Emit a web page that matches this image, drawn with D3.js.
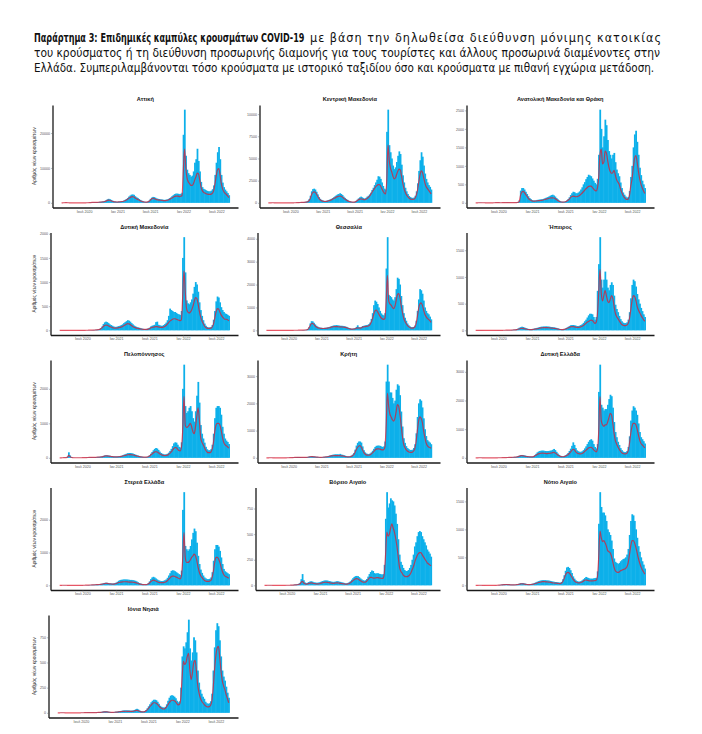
<!DOCTYPE html>
<html lang="el">
<head>
<meta charset="UTF-8">
<title>Παράρτημα 3 - Επιδημικές καμπύλες</title>
<script src="https://d3js.org/d3.v7.min.js"></script>
<style>
  body { margin: 0; background: #fff; }
  svg { display: block; }
</style>
</head>
<body>
<script>
// weekly bins, first week starts Monday 24 Feb 2020
// *Bars = highest daily count in the week, *Avg = 7-day average (red line)
const firstWeek = new Date(2020, 1, 24);

const regions = ["Αττική", "Κεντρική Μακεδονία", "Ανατολική Μακεδονία και Θράκη",
  "Δυτική Μακεδονία", "Θεσσαλία", "Ήπειρος",
  "Πελοπόννησος", "Κρήτη", "Δυτική Ελλάδα",
  "Στερεά Ελλάδα", "Βόρειο Αιγαίο", "Νότιο Αιγαίο",
  "Ιόνια Νησιά"];

const atticaBars = [5,20,50,70,60,40,30,20,15,10,
  8,6,6,6,10,10,15,20,20,25,
  40,50,100,140,170,180,180,190,210,240,
  280,320,380,450,560,750,1000,1150,1050,850,
  650,500,400,360,340,380,420,470,540,650,
  850,1100,1400,1800,2100,2360,2400,2300,1900,1600,
  1400,1100,850,650,480,360,290,290,380,650,
  1150,1500,1700,1650,1450,1250,1150,1100,1000,950,
  900,850,900,950,1100,1350,1550,1900,2200,2500,
  2640,2650,2600,2500,2600,2900,19500,26700,13500,9500,
  8500,8000,7500,7800,9000,11500,12500,15500,12000,9000,
  6000,4500,4000,3800,3600,3400,3300,3300,3500,3900,
  5000,8000,11500,14500,16000,12500,8000,5800,4500,3800,
  3300,2800,2200];
const atticaAvg = [2,10,30,40,35,25,15,10,8,5,
  4,3,3,3,5,5,8,10,12,15,
  20,30,60,90,110,120,120,130,150,170,
  200,220,260,300,380,500,700,800,750,600,
  450,350,280,250,230,270,300,330,380,450,
  600,800,1000,1300,1500,1700,1800,1700,1400,1200,
  1000,800,600,450,330,250,200,200,260,450,
  800,1100,1300,1250,1050,900,850,800,750,700,
  650,620,650,700,800,1000,1150,1400,1600,1800,
  1900,1950,1900,1800,1900,2100,9000,15500,10000,7000,
  6000,5500,5000,5000,5500,6500,7500,8500,8300,6500,
  4500,3500,3000,2800,2600,2500,2400,2400,2500,2800,
  3500,5500,7800,9500,9800,8000,5500,4000,3200,2700,
  2400,2000,1500];

const centralMacBars = [0,5,12,15,15,12,8,6,4,4,
  2,2,2,3,4,4,6,8,10,12,
  12,15,20,30,45,60,70,80,90,100,
  120,160,230,420,800,1300,1550,1600,1500,1250,
  950,650,450,330,270,220,210,240,280,330,
  380,450,540,640,740,850,950,1000,1080,1000,
  880,700,560,440,340,240,170,140,110,110,
  130,220,360,500,620,700,620,540,470,560,
  700,800,950,1150,1450,1700,2000,2300,2600,3000,
  2950,2700,2300,1900,1600,1500,8000,10500,6500,5700,
  5000,4200,3800,4000,4600,5300,5800,5500,4300,3100,
  2300,1700,1300,1000,780,650,580,550,600,800,
  1300,2200,3600,4800,5700,5200,4200,3300,2700,2300,
  2000,1800,1500];
const centralMacAvg = [0,2,5,8,8,6,4,3,2,2,
  1,1,1,1,2,2,3,4,5,6,
  6,8,10,15,25,35,40,45,55,60,
  70,90,130,250,500,900,1150,1230,1200,1000,
  750,500,350,250,200,160,150,170,200,240,
  280,330,400,480,560,640,700,740,760,740,
  650,520,420,330,250,180,130,100,80,80,
  90,150,250,350,420,450,420,380,350,400,
  500,600,750,950,1200,1400,1600,1800,1950,2050,
  2050,1900,1600,1300,1100,1000,2500,6500,4800,3900,
  3500,3000,2700,2800,3200,3600,3800,3700,3000,2200,
  1600,1200,900,700,550,450,400,380,400,550,
  900,1500,2400,3200,3600,3400,2800,2200,1800,1600,
  1400,1200,1000];

const eastMacBars = [0,2,4,6,6,4,4,4,2,2,
  2,2,2,2,4,6,8,10,8,6,
  6,8,10,10,12,12,10,10,8,8,
  10,12,15,22,70,330,400,400,360,300,
  240,180,130,100,75,65,65,70,80,85,
  90,95,100,110,125,140,155,170,190,210,
  220,200,170,130,95,65,45,32,30,32,
  45,65,100,150,210,260,300,290,260,260,
  280,310,360,420,500,560,640,700,760,740,
  720,660,600,540,500,650,1300,2520,2000,1500,
  1800,2250,2100,1700,1400,1300,1200,1300,1350,1100,
  900,800,720,550,400,280,220,170,140,160,
  320,700,1000,1500,1850,1950,1650,1300,950,750,
  600,500,400];
const eastMacAvg = [0,1,2,3,3,2,2,2,1,1,
  1,1,1,1,2,3,4,5,4,3,
  3,4,5,5,6,6,5,5,4,4,
  5,6,8,12,40,200,290,310,280,230,
  180,130,90,70,50,45,45,50,55,60,
  60,65,70,80,90,100,110,120,130,135,
  135,130,115,90,65,45,30,22,20,22,
  30,45,70,100,140,170,180,175,165,170,
  180,200,230,260,300,340,380,410,440,450,
  450,420,380,340,320,400,700,1300,1450,1050,
  1100,1400,1350,1150,950,850,800,820,880,750,
  620,560,500,380,280,200,150,110,90,100,
  200,450,650,950,1200,1280,1100,850,650,500,
  400,320,250];

const westMacBars = [0,1,2,2,2,2,2,1,0,0,
  0,0,0,0,1,2,2,2,2,2,
  2,3,4,5,5,6,8,10,12,15,
  20,30,45,80,130,165,180,170,150,125,
  110,95,80,72,72,80,88,95,110,125,
  150,170,190,210,200,180,150,125,100,85,
  70,60,55,45,38,32,28,28,32,40,
  55,80,95,105,115,170,180,115,105,95,
  95,110,130,160,210,300,450,420,400,380,
  380,360,340,330,320,400,1500,1930,1200,620,
  560,540,580,640,760,900,1000,950,800,580,
  420,300,210,140,95,70,60,60,70,110,
  220,400,600,700,680,580,480,420,380,350,
  340,320,300];
const westMacAvg = [0,0,1,1,1,1,1,0,0,0,
  0,0,0,0,0,1,1,1,1,1,
  1,2,2,3,3,4,5,6,8,10,
  14,20,30,50,80,100,110,105,95,80,
  70,60,50,45,45,50,55,60,70,80,
  95,110,125,140,135,120,100,80,65,55,
  45,40,35,30,25,20,18,18,20,25,
  35,50,60,65,70,75,75,70,65,60,
  60,70,80,100,130,160,190,210,230,240,
  240,230,220,210,200,220,700,1230,800,450,
  380,360,380,420,500,600,680,660,550,400,
  280,200,140,90,60,45,40,40,45,70,
  130,250,380,450,440,380,320,280,250,230,
  230,220,200];

const thessalyBars = [0,2,4,4,4,2,2,2,0,0,
  0,0,0,0,1,1,2,2,2,2,
  3,4,5,6,8,8,9,10,12,15,
  18,22,30,60,140,300,400,390,330,260,
  200,160,130,120,110,105,105,110,120,130,
  145,160,185,200,215,220,230,220,210,200,
  200,195,185,170,155,130,105,85,72,72,
  80,95,150,220,140,130,150,190,200,215,
  230,240,270,340,500,750,1100,1300,1250,1150,
  1000,850,740,680,650,750,2700,4070,1550,1500,
  1450,1350,1300,1450,1800,2300,2250,2000,1500,1100,
  750,550,420,300,220,170,140,140,150,210,
  420,850,1350,1800,1750,1600,1300,1000,850,750,
  700,600,480];
const thessalyAvg = [0,1,2,2,2,1,1,1,0,0,
  0,0,0,0,0,0,1,1,1,1,
  2,2,3,4,5,5,6,7,8,10,
  12,15,20,40,90,200,290,300,260,200,
  150,120,100,90,85,80,80,85,90,100,
  110,120,140,150,160,160,165,160,155,150,
  150,145,140,130,120,100,80,65,55,55,
  60,70,90,110,100,95,110,140,150,160,
  170,180,200,250,350,500,700,850,880,820,
  720,620,540,500,480,520,1300,2400,1300,1150,
  1100,1000,950,1050,1300,1550,1600,1450,1100,800,
  550,400,300,220,160,120,100,100,110,150,
  300,600,950,1150,1200,1100,900,700,600,520,
  480,420,350];

const epirusBars = [0,1,2,2,2,2,1,0,0,0,
  0,0,0,0,0,1,1,2,2,2,
  2,3,4,4,5,5,5,6,8,10,
  14,18,24,35,50,60,68,62,52,42,
  34,28,24,24,26,30,36,42,48,55,
  62,68,70,72,72,75,72,70,66,62,
  60,56,52,45,38,30,24,20,20,26,
  36,50,65,80,95,100,100,95,88,80,
  80,88,100,115,140,170,200,240,280,310,
  310,300,250,200,250,740,1240,1745,950,800,
  950,1100,950,800,750,850,900,850,650,480,
  400,340,270,210,170,145,135,135,150,200,
  340,600,850,950,920,820,680,580,500,420,
  360,300,250];
const epirusAvg = [0,0,1,1,1,1,0,0,0,0,
  0,0,0,0,0,0,0,1,1,1,
  1,1,2,2,3,3,3,4,5,6,
  8,10,14,20,28,35,38,36,30,25,
  20,16,14,14,15,18,22,26,30,35,
  40,45,48,50,50,52,50,48,45,42,
  40,38,35,30,25,20,16,14,14,18,
  25,35,45,55,65,70,70,65,60,55,
  55,60,65,75,90,110,130,150,165,180,
  190,185,160,130,150,300,700,1140,700,550,
  650,750,650,550,520,580,650,600,450,320,
  260,220,180,140,110,95,90,90,100,130,
  220,380,550,650,640,560,450,380,330,280,
  240,200,170];

const peloponneseBars = [0,2,4,6,8,12,40,160,70,25,
  8,5,4,4,4,4,5,5,6,8,
  10,12,15,18,20,20,20,22,24,26,
  30,34,38,45,58,70,75,75,70,62,
  55,50,45,42,42,45,48,52,60,75,
  90,105,120,135,140,140,135,125,110,95,
  80,66,56,45,38,30,27,27,30,45,
  75,120,170,220,260,285,270,230,180,140,
  120,105,95,105,120,150,200,260,340,420,
  450,440,380,320,300,450,2000,2700,1500,1300,
  1350,1450,1500,1350,1150,1050,1350,1800,2200,1600,
  950,700,560,440,320,250,220,220,250,380,
  700,1150,1450,1500,1500,1450,1250,900,700,560,
  500,460,400];
const peloponneseAvg = [0,1,2,4,5,8,20,70,40,15,
  5,3,2,2,2,2,3,3,4,5,
  6,8,10,12,14,14,14,15,16,18,
  20,22,25,30,40,50,55,55,50,45,
  40,35,30,28,28,30,32,35,40,50,
  60,70,80,90,95,95,90,85,75,65,
  55,45,38,30,25,20,18,18,20,30,
  50,80,110,140,165,180,170,150,120,95,
  80,70,65,70,80,100,130,170,220,270,
  300,290,250,210,200,300,800,1780,950,880,
  900,950,1000,900,750,700,900,1200,1450,1100,
  600,450,380,300,220,170,150,150,170,250,
  450,750,950,1000,1000,950,800,600,450,380,
  350,320,280];

const creteBars = [0,2,4,5,5,4,4,2,2,2,
  2,2,2,2,2,4,4,6,8,10,
  14,18,22,26,30,32,32,30,28,26,
  26,28,30,36,46,55,60,58,52,45,
  40,36,32,30,30,34,38,45,52,60,
  75,90,105,115,120,130,130,130,125,145,
  120,110,95,80,65,55,55,60,85,120,
  180,300,450,550,600,600,560,420,280,200,
  160,145,140,160,200,260,330,400,440,450,
  450,440,420,400,420,600,2800,3420,2800,2400,
  2400,2200,2000,2100,2500,2700,2650,2300,1700,1150,
  720,550,430,360,320,290,290,300,360,500,
  900,1500,2000,2150,2100,1850,1450,1050,800,650,
  600,560,500];
const creteAvg = [0,1,2,3,3,2,2,1,1,1,
  1,1,1,1,1,2,2,3,4,6,
  8,10,12,15,18,20,20,18,16,15,
  15,16,18,22,30,40,45,42,38,32,
  28,25,22,20,20,22,25,30,35,40,
  50,60,70,75,80,85,85,85,80,80,
  75,70,60,50,40,35,35,40,55,80,
  120,200,300,380,430,450,400,300,200,140,
  110,100,95,110,140,180,230,280,320,330,
  330,320,300,290,300,400,1200,2370,1900,1600,
  1500,1400,1350,1450,1700,1950,1900,1600,1200,800,
  500,380,300,250,220,200,200,210,250,350,
  600,1000,1350,1500,1450,1300,1000,750,550,450,
  400,380,350];

const westGreeceBars = [0,2,4,5,5,4,4,2,2,2,
  2,2,2,2,2,2,4,4,5,5,
  6,8,10,12,15,18,20,24,26,30,
  32,36,45,60,80,95,100,95,85,72,
  65,58,52,48,48,60,90,140,190,220,
  240,250,255,250,240,235,235,240,250,260,
  280,310,270,210,150,105,75,60,56,66,
  90,120,170,240,320,420,540,450,340,260,
  230,210,210,230,270,330,400,480,560,620,
  650,600,480,380,330,480,2300,3250,1850,1750,
  1650,1700,1700,1850,2050,2200,2150,1750,1250,900,
  720,560,450,340,270,220,200,200,240,380,
  750,1300,1650,1800,1750,1650,1500,1200,900,720,
  650,580,500];
const westGreeceAvg = [0,1,2,3,3,2,2,1,1,1,
  1,1,1,1,1,1,2,2,3,3,
  4,5,6,8,10,12,14,16,18,20,
  22,25,30,40,55,70,75,70,60,50,
  45,40,35,32,32,40,60,90,120,140,
  150,160,165,160,155,150,150,155,160,170,
  180,190,170,140,100,70,50,40,38,45,
  60,80,110,150,200,260,300,280,220,170,
  150,140,140,150,180,220,260,300,340,360,
  370,340,290,240,210,300,900,2140,1300,1150,
  1100,1150,1150,1250,1400,1550,1500,1200,850,600,
  480,380,300,230,180,150,140,140,160,250,
  500,850,1100,1200,1200,1150,1000,800,620,500,
  450,400,350];

const stereaBars = [0,2,4,5,5,5,4,4,2,2,
  2,2,2,2,2,2,4,4,4,5,
  6,8,10,12,15,18,20,24,28,30,
  34,38,45,52,65,75,80,78,70,62,
  60,58,60,68,85,110,140,160,170,175,
  180,180,180,175,170,165,165,160,150,140,
  120,95,72,55,45,36,32,32,40,65,
  120,190,240,260,240,210,180,155,140,130,
  130,140,155,180,230,300,370,440,460,450,
  430,400,370,340,320,450,2300,2840,1200,1100,
  1050,1100,1200,1400,1600,1730,1650,1300,900,650,
  480,380,300,240,210,190,190,200,240,400,
  750,1100,1230,1230,1180,1050,850,650,500,430,
  400,370,340];
const stereaAvg = [0,1,2,3,3,3,2,2,1,1,
  1,1,1,1,1,1,2,2,2,3,
  4,5,6,8,10,12,14,16,18,20,
  22,25,30,35,45,55,60,58,52,45,
  42,40,40,45,55,70,85,95,100,105,
  110,110,110,105,100,100,100,95,90,85,
  75,60,45,35,28,22,20,20,25,40,
  70,110,140,160,150,130,110,95,85,80,
  80,85,95,110,140,180,220,260,280,280,
  270,250,230,210,200,280,800,1610,850,700,
  700,720,780,850,900,950,900,750,550,400,
  300,240,190,150,130,120,120,130,150,250,
  450,700,850,850,800,700,550,420,330,280,
  260,240,220];

const northAegeanBars = [0,0,2,2,2,2,2,0,0,0,
  0,0,0,0,0,0,0,2,2,2,
  2,4,4,6,8,10,12,16,24,60,
  110,50,28,22,26,32,38,40,36,30,
  28,26,26,28,32,38,42,46,48,48,
  46,42,40,36,34,34,36,40,40,36,
  34,30,27,24,20,20,24,30,40,55,
  70,82,90,92,90,80,68,58,50,46,
  50,62,85,110,130,145,140,120,115,118,
  118,112,110,105,110,200,650,910,760,800,
  850,830,820,780,700,600,450,300,230,200,
  170,150,140,140,150,170,200,250,300,380,
  420,480,520,530,520,480,450,420,390,350,
  330,310,280];
const northAegeanAvg = [0,0,1,1,1,1,1,0,0,0,
  0,0,0,0,0,0,0,1,1,1,
  1,2,2,3,4,5,6,8,12,30,
  40,25,15,12,14,18,22,24,22,18,
  16,14,14,15,18,22,25,28,30,30,
  28,26,24,22,20,20,22,24,24,22,
  20,18,16,14,12,12,14,18,25,35,
  45,55,62,66,62,55,45,38,32,30,
  32,40,55,70,78,77,72,70,72,75,
  75,72,70,68,70,120,300,520,480,500,
  560,600,560,520,460,380,280,180,140,120,
  100,90,85,85,90,100,120,150,180,220,
  260,290,310,320,320,300,280,260,240,220,
  210,200,190];

const southAegeanBars = [0,0,2,4,4,2,2,2,0,0,
  0,0,0,0,0,2,2,4,6,10,
  14,18,20,22,24,22,20,16,14,14,
  14,16,20,25,32,38,42,40,34,28,
  24,22,22,24,28,35,44,55,65,75,
  82,88,92,92,92,90,88,85,80,75,
  68,64,60,58,54,50,50,62,110,180,
  260,320,330,310,270,220,160,120,90,75,
  68,68,75,90,110,130,150,140,130,120,
  120,120,125,130,135,250,1100,1665,1400,1300,
  1300,1250,1150,1000,950,900,800,650,480,420,
  400,380,400,430,450,470,480,500,550,650,
  900,1150,1270,1250,1150,1000,850,700,600,500,
  430,370,300];
const southAegeanAvg = [0,0,1,2,2,1,1,1,0,0,
  0,0,0,0,0,1,1,2,3,5,
  8,10,12,14,15,14,12,10,8,8,
  8,10,12,15,20,25,28,26,22,18,
  15,14,14,15,18,22,28,35,42,50,
  55,60,65,65,65,62,60,58,55,50,
  45,42,40,38,35,32,32,40,70,120,
  180,220,230,220,190,150,110,80,60,50,
  45,45,50,60,75,90,95,90,85,80,
  80,80,82,85,90,150,500,970,850,780,
  800,760,700,620,600,580,520,420,320,260,
  240,230,240,260,270,280,290,300,330,400,
  550,700,800,800,760,680,580,480,400,330,
  280,240,200];

const ionianBars = [0,0,2,2,2,2,0,0,0,0,
  0,0,0,0,0,0,0,0,2,2,
  2,4,4,5,5,5,5,5,5,5,
  6,7,8,9,11,14,16,16,14,12,
  10,8,8,8,10,12,14,16,18,20,
  22,24,25,25,24,24,22,22,24,28,
  35,40,34,25,18,15,15,18,28,45,
  65,85,105,120,130,130,125,110,90,70,
  60,55,52,60,85,120,150,170,175,170,
  160,145,120,105,115,250,560,660,640,700,
  800,925,640,520,600,750,720,600,420,300,
  230,190,160,140,110,95,90,95,115,190,
  420,650,820,890,860,720,560,420,360,320,
  260,200,150];
const ionianAvg = [0,0,1,1,1,1,0,0,0,0,
  0,0,0,0,0,0,0,0,1,1,
  1,2,2,3,3,3,3,3,3,3,
  3,4,4,5,6,8,10,10,9,8,
  6,5,5,5,6,7,8,10,12,13,
  14,15,16,16,15,15,14,14,15,18,
  22,25,22,16,12,10,10,12,18,30,
  45,60,75,90,100,100,95,85,70,55,
  45,40,38,45,60,80,100,115,125,125,
  120,110,90,80,85,150,350,510,480,500,
  560,590,420,330,400,500,520,420,280,200,
  150,120,100,85,70,62,60,62,75,120,
  250,420,560,640,660,560,420,320,270,230,
  180,140,100];

const barSets = [atticaBars, centralMacBars, eastMacBars, westMacBars, thessalyBars, epirusBars,
  peloponneseBars, creteBars, westGreeceBars, stereaBars, northAegeanBars, southAegeanBars, ionianBars];
const avgSets = [atticaAvg, centralMacAvg, eastMacAvg, westMacAvg, thessalyAvg, epirusAvg,
  peloponneseAvg, creteAvg, westGreeceAvg, stereaAvg, northAegeanAvg, southAegeanAvg, ionianAvg];

const yTickSets = [
  [0, 10000, 20000],
  [0, 2500, 5000, 7500, 10000],
  [0, 500, 1000, 1500, 2000, 2500],
  [0, 500, 1000, 1500, 2000],
  [0, 1000, 2000, 3000, 4000],
  [0, 500, 1000, 1500],
  [0, 1000, 2000],
  [0, 1000, 2000, 3000],
  [0, 1000, 2000, 3000],
  [0, 1000, 2000],
  [0, 250, 500, 750],
  [0, 500, 1000, 1500],
  [0, 250, 500, 750]
];

const xTickDates = [new Date(2020, 6, 1), new Date(2021, 0, 1), new Date(2021, 6, 1),
  new Date(2022, 0, 1), new Date(2022, 6, 1)];
const xTickLabels = ["Ιουλ 2020", "Ιαν 2021", "Ιουλ 2021", "Ιαν 2022", "Ιουλ 2022"];

const yTitle = "Αριθμός νέων κρουσμάτων";

// ---- layout ----
const W = 702, H = 734;
const colRight = [238, 440, 654];
const colLabelLeft = [40, 247, 456];
const rowStep = 127.5;
const font = "'Liberation Sans', Arial, sans-serif";
const barColor = "#0db0ea";
const lineColor = "#e3162b";

const svg = d3.select("body").append("svg")
  .attr("width", W)
  .attr("height", H);

// header paragraph: each piece is fitted to the width it has in the page
const head = svg.append("g")
  .attr("font-family", "'DejaVu Sans Condensed', 'Open Sans', sans-serif")
  .attr("font-size", 12.5)
  .attr("fill", "#111");

function headText(txt, x, y, target, bold) {
  const t = head.append("text").text(txt);
  if (bold) t.attr("font-weight", "bold");
  const w = t.node().getComputedTextLength();
  if (w > target) {
    t.attr("transform", `translate(${x},${y}) scale(${target / w},1)`);
  } else {
    t.attr("x", x).attr("y", y)
      .attr("textLength", target).attr("lengthAdjust", "spacing");
  }
}

headText("Παράρτημα 3: Επιδημικές καμπύλες κρουσμάτων COVID-19", 34, 42, 271, true);
headText("με βάση την δηλωθείσα διεύθυνση μόνιμης κατοικίας", 310, 42, 351, false);
headText("του κρούσματος ή τη διεύθυνση προσωρινής διαμονής για τους τουρίστες και άλλους προσωρινά διαμένοντες στην", 34, 57, 627, false);
headText("Ελλάδα. Συμπεριλαμβάνονται τόσο κρούσματα με ιστορικό ταξιδίου όσο και κρούσματα με πιθανή εγχώρια μετάδοση.", 34, 72, 621, false);

const DAY = 864e5;
const weekDate = i => new Date(firstWeek.getTime() + i * 7 * DAY);

regions.forEach((name, i) => {
  const bars = barSets[i], avg = avgSets[i], ticks = yTickSets[i];
  const col = i % 3, row = Math.floor(i / 3);
  const top = 105 + row * rowStep;
  const bottom = 207.5 + row * rowStep;

  const g = svg.append("g");

  // width of the widest y label decides where the axis sits
  const probe = g.append("g").attr("font-family", font).attr("font-size", 3.6);
  let labelW = 0;
  ticks.forEach(t => {
    const n = probe.append("text").text(t);
    labelW = Math.max(labelW, n.node().getComputedTextLength());
  });
  probe.remove();
  const left = colLabelLeft[col] + labelW + 2.5;
  const right = colRight[col];

  const t0 = weekDate(0), t1 = weekDate(bars.length);
  const pad = (t1 - t0) * 0.05;
  const x = d3.scaleTime()
    .domain([new Date(+t0 - pad), new Date(+t1 + pad)])
    .range([left, right]);

  const yMax = d3.max(bars);
  const y = d3.scaleLinear()
    .domain([-0.05 * yMax, 1.05 * yMax])
    .range([bottom, top]);

  g.append("g")
    .selectAll("rect")
    .data(bars)
    .join("rect")
    .attr("x", (d, k) => x(weekDate(k)))
    .attr("width", (d, k) => x(weekDate(k + 1)) - x(weekDate(k)) + 0.5)
    .attr("y", d => y(d))
    .attr("height", d => y(0) - y(d))
    .attr("fill", barColor);

  const line = d3.line()
    .x((d, k) => x(weekDate(k + 0.5)))
    .y(d => y(d))
    .curve(d3.curveMonotoneX);

  g.append("path")
    .datum(avg)
    .attr("d", line)
    .attr("fill", "none")
    .attr("stroke", lineColor)
    .attr("stroke-width", 1.2)
    .attr("stroke-opacity", 0.72);

  const yAxis = g.append("g")
    .attr("transform", `translate(${left},0)`)
    .call(d3.axisLeft(y).tickValues(ticks).tickFormat(d3.format("d"))
      .tickSize(1.5).tickSizeOuter(0).tickPadding(1));

  const xAxis = g.append("g")
    .attr("transform", `translate(0,${bottom})`)
    .call(d3.axisBottom(x).tickValues(xTickDates).tickFormat((d, k) => xTickLabels[k])
      .tickSize(1.5).tickSizeOuter(0).tickPadding(1));

  [yAxis, xAxis].forEach(a => {
    a.attr("font-family", font).attr("font-size", 3.6);
    a.select(".domain").attr("stroke", "#1a1a1a").attr("stroke-width", 1.3);
    a.selectAll(".tick line").attr("stroke", "#555").attr("stroke-width", 0.4);
    a.selectAll(".tick text").attr("fill", "#555");
  });

  g.append("text")
    .attr("x", (left + right) / 2)
    .attr("y", top - 4)
    .attr("text-anchor", "middle")
    .attr("font-family", font)
    .attr("font-weight", "bold")
    .attr("font-size", 5.6)
    .attr("fill", "#111")
    .text(name);

  if (col === 0) {
    g.append("text")
      .attr("transform", `translate(36,${(top + bottom) / 2}) rotate(-90)`)
      .attr("text-anchor", "middle")
      .attr("font-family", font)
      .attr("font-size", 4.8)
      .attr("fill", "#333")
      .text(yTitle);
  }
});
</script>
</body>
</html>
